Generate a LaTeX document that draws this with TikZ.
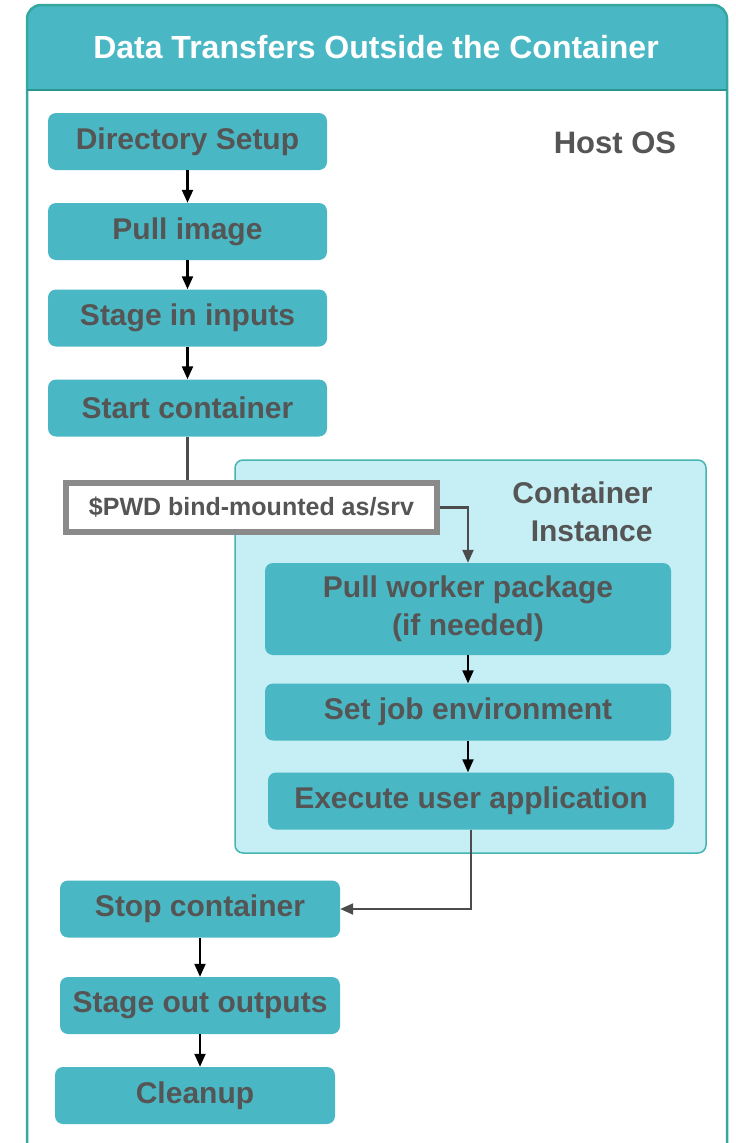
\documentclass[tikz,border=0pt]{standalone}
\usepackage{fontspec}
\setmainfont{Liberation Sans}
\usetikzlibrary{arrows.meta}
\definecolor{boxfill}{RGB}{74,184,196}
\definecolor{frame}{RGB}{52,168,160}
\definecolor{hdrline}{RGB}{40,150,142}
\definecolor{cifill}{RGB}{197,239,244}
\definecolor{ciline}{RGB}{70,180,175}
\definecolor{txt}{RGB}{85,85,85}
\definecolor{graybd}{RGB}{138,138,138}
\tikzset{
  stepbox/.style={fill=boxfill, rounded corners=8pt, minimum width=279pt, minimum height=57pt, inner sep=0pt, text=txt, font=\fontsize{30}{35}\selectfont\bfseries, align=center},
  arr/.style={-{Triangle[length=13pt,width=11pt]}, line width=2.2pt, black},
  garr/.style={-{Triangle[length=13pt,width=11pt]}, line width=2.2pt, black!70},
}
\begin{document}
\begin{tikzpicture}[x=1pt,y=-1pt]
\useasboundingbox (0,0) rectangle (736,1143);
\clip (0,0) rectangle (736,1143);
% outer frame
\fill[white] (27,5) rectangle (727,1160);
\fill[boxfill, rounded corners=14pt] (27,5) rectangle (727,90);
\fill[boxfill] (27,60) rectangle (727,90);
\draw[frame, line width=2.5pt, rounded corners=14pt] (27,1170) -- (27,5) -- (727,5) -- (727,1170);
\draw[hdrline, line width=2pt] (27,90) -- (727,90);
\node[text=white, font=\fontsize{32}{38}\selectfont\bfseries] (title) at (376,47) {Data Transfers Outside the Container};
\node[text=txt, font=\fontsize{31}{36}\selectfont\bfseries] (host) at (615,143) {Host OS};
% container instance region
\node[fill=cifill, draw=ciline, line width=1.5pt, rounded corners=8pt, minimum width=471pt, minimum height=393pt, inner sep=0pt] (ci) at (470.5,656.5) {};
\node[text=txt, font=\fontsize{30}{38}\selectfont\bfseries, align=right, anchor=north east] (cilabel) at (656,478) {Container\\Instance};
% host steps
\node[stepbox] (dir) at (187.5,141.5) {Directory Setup};
\node[stepbox] (pull) at (187.5,231.5) {Pull image};
\node[stepbox] (stagein) at (187.5,318) {Stage in inputs};
\node[stepbox] (start) at (187.5,408) {Start container};
% bind mount box
\node[draw=graybd, line width=6pt, fill=white, minimum width=371pt, minimum height=49pt, inner sep=0pt, text=txt, font=\fontsize{25}{30}\selectfont\bfseries] (bind) at (251.5,507.5) {\$PWD bind-mounted as/srv};
% container steps
\node[stepbox, minimum width=406pt, minimum height=92pt, font=\fontsize{30}{38}\selectfont\bfseries] (worker) at (468,609) {Pull worker package\\(if needed)};
\node[stepbox, minimum width=406pt] (env) at (468,712) {Set job environment};
\node[stepbox, minimum width=406pt] (exec) at (471,801) {Execute user application};
% host steps after
\node[stepbox, minimum width=280pt] (stop) at (200,909) {Stop container};
\node[stepbox, minimum width=280pt] (stageout) at (200,1005.5) {Stage out outputs};
\node[stepbox, minimum width=280pt] (clean) at (195,1095.5) {Cleanup};
% connectors
\draw[arr] (dir.south) -- (pull.north);
\draw[arr] (pull.south) -- (stagein.north);
\draw[arr] (stagein.south) -- (start.north);
\draw[line width=2.2pt, black!70] (start.south) -- (start.south |- bind.north);
\draw[garr] (bind.east) -| (worker.north);
\draw[arr] (worker.south) -- (env.north);
\draw[arr] (env.south) -- (env.south |- exec.north);
\draw[garr] (exec.south) |- (stop.east);
\draw[arr] (stop.south) -- (stageout.north);
\draw[arr] (stageout.south) -- (stageout.south |- clean.north);
\end{tikzpicture}
\end{document}
